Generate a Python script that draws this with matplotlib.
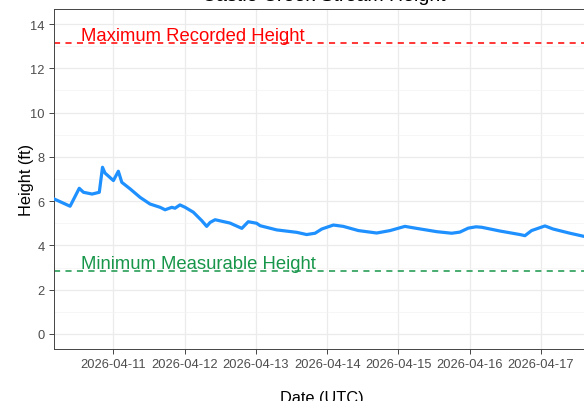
import matplotlib
matplotlib.use('Agg')
import matplotlib.pyplot as plt
import matplotlib.dates as mdates
import pandas as pd
import numpy as np

plt.rcParams['font.family'] = ['Liberation Sans', 'DejaVu Sans']

times = ['2026-04-10 04:00', '2026-04-10 09:25', '2026-04-10 12:30', '2026-04-10 13:55',
         '2026-04-10 16:50', '2026-04-10 19:15', '2026-04-10 20:20', '2026-04-10 21:10',
         '2026-04-11 00:00', '2026-04-11 01:40', '2026-04-11 02:50', '2026-04-11 05:40',
         '2026-04-11 09:00', '2026-04-11 12:20', '2026-04-11 15:45', '2026-04-11 17:25',
         '2026-04-11 19:40', '2026-04-11 20:45', '2026-04-11 22:25', '2026-04-12 00:10',
         '2026-04-12 02:55', '2026-04-12 05:45', '2026-04-12 07:25', '2026-04-12 08:35',
         '2026-04-12 10:15', '2026-04-12 15:15', '2026-04-12 19:15', '2026-04-12 21:25',
         '2026-04-13 00:15', '2026-04-13 01:25', '2026-04-13 07:00', '2026-04-13 13:45',
         '2026-04-13 17:05', '2026-04-13 19:55', '2026-04-13 22:10', '2026-04-14 02:05',
         '2026-04-14 05:25', '2026-04-14 10:30', '2026-04-14 16:40', '2026-04-14 21:10',
         '2026-04-15 02:10', '2026-04-15 06:05', '2026-04-15 12:55', '2026-04-15 17:55',
         '2026-04-15 20:40', '2026-04-15 23:30', '2026-04-16 02:05', '2026-04-16 04:00',
         '2026-04-16 10:10', '2026-04-16 16:55', '2026-04-16 18:35', '2026-04-16 20:50',
         '2026-04-17 01:20', '2026-04-17 04:05', '2026-04-17 09:45', '2026-04-17 14:25',
         '2026-04-17 16:30']
height_ft = [6.10, 5.77, 6.58, 6.40,
             6.32, 6.40, 7.53, 7.27,
             6.93, 7.35, 6.85, 6.55,
             6.17, 5.87, 5.72, 5.61,
             5.72, 5.68, 5.83, 5.72,
             5.50, 5.12, 4.86, 5.04,
             5.16, 5.01, 4.77, 5.07,
             5.00, 4.89, 4.70, 4.59,
             4.49, 4.55, 4.74, 4.92,
             4.86, 4.67, 4.56, 4.67,
             4.86, 4.77, 4.62, 4.55,
             4.60, 4.78, 4.84, 4.82,
             4.65, 4.49, 4.44, 4.67,
             4.88, 4.74, 4.55, 4.41,
             4.36]

max_height = 13.16
min_height = 2.86
max_label = 'Maximum Recorded Height'
min_label = 'Minimum Measurable Height'

t = pd.to_datetime(times)

fig = plt.figure(figsize=(5.84, 4.02), dpi=100)
ax = fig.add_axes([54 / 584, 52 / 402, 536 / 584, 340 / 402])

ax.set_xlim(pd.Timestamp('2026-04-10 04:00'), pd.Timestamp('2026-04-17 16:30'))
ax.set_ylim(-0.68, 14.68)

ax.set_yticks(np.arange(0, 15, 2))
ax.set_yticks(np.arange(1, 15, 2), minor=True)
ax.xaxis.set_major_locator(mdates.DayLocator())
ax.xaxis.set_major_formatter(mdates.DateFormatter('%Y-%m-%d'))

ax.grid(which='major', color='#EBEBEB', lw=0.9)
ax.grid(which='minor', axis='y', color='#F3F3F3', lw=0.5)
ax.set_axisbelow(True)

ax.plot(t, height_ft, color='#1E90FF', lw=2.3, solid_joinstyle='round', zorder=3)

ax.axhline(max_height, color='#FF0000', ls=(0, (4, 3.5)), lw=1.1)
ax.axhline(min_height, color='#17964A', ls=(0, (4, 3.5)), lw=1.1)

x0 = pd.Timestamp('2026-04-10 13:00')
ax.text(x0, max_height + 0.1, max_label, color='#FF0000', fontsize=13.3, va='baseline')
ax.text(x0, min_height + 0.1, min_label, color='#17964A', fontsize=13.3, va='baseline')

for s in ax.spines.values():
    s.set_color('#444444')
    s.set_linewidth(0.7)

ax.tick_params(which='major', length=3.3, width=0.7, color='#444444',
               labelcolor='#4D4D4D', labelsize=9.3)
ax.tick_params(which='minor', length=0)

ax.set_xlabel('Date (UTC)', fontsize=11.8, labelpad=14)
ax.set_ylabel('Height (ft)', fontsize=11.8, labelpad=-2.5)

fig.text(324 / 584, 1 - 0.8 / 402, 'Castle Creek Stream Height', ha='center',
         va='baseline', fontsize=14)

fig.savefig('out.png', dpi=100)
